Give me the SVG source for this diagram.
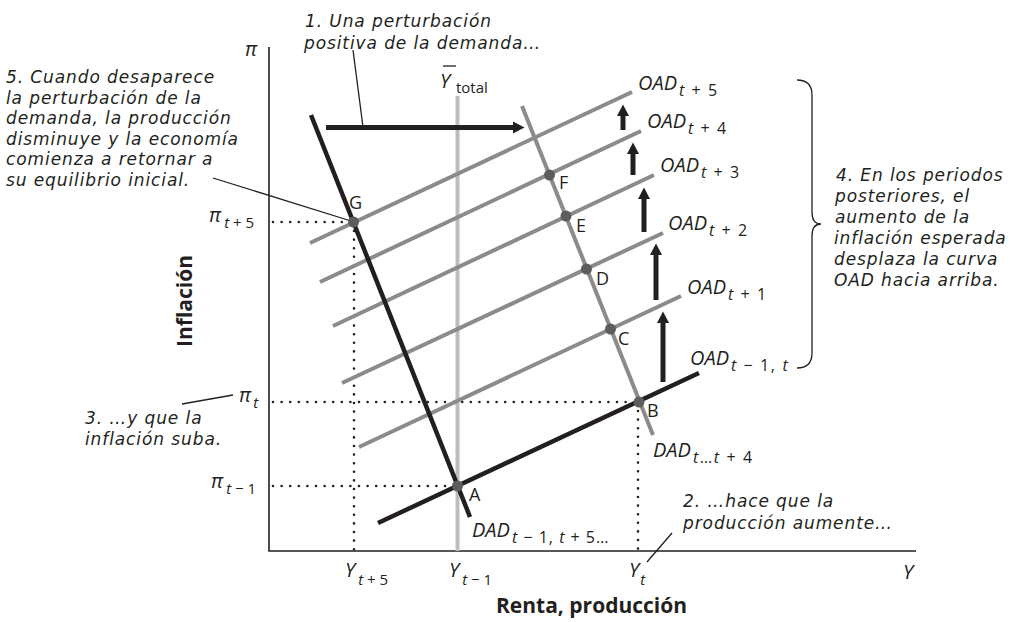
<svg xmlns="http://www.w3.org/2000/svg" width="1010" height="622" viewBox="0 0 1010 622">
<defs>
<style>
text { font-family: "Open Sans", "Liberation Sans", sans-serif; fill: #231f20; }
.ann { font-family: "DejaVu Sans", "Open Sans", sans-serif; font-style: italic; font-size: 17px; letter-spacing: 0.9px; }
.m { font-style: italic; font-size: 20px; }
.s { font-size: 15px; }
.os { font-size: 16px; letter-spacing: 1.6px; }
.u { font-style: normal; }
.pt { font-size: 18px; }
.b { font-weight: bold; font-size: 21px; }
.axis { stroke: #231f20; stroke-width: 1.6; fill: none; }
.blk { stroke: #231f20; stroke-width: 4.5; fill: none; }
.gry { stroke: #8b8b8c; stroke-width: 4; fill: none; }
.ybar { stroke: #bdbdc0; stroke-width: 4; fill: none; }
.dot { stroke: #231f20; stroke-width: 2.6; stroke-linecap: round; stroke-dasharray: 0 8.6; fill: none; }
.lead { stroke: #231f20; stroke-width: 1.3; fill: none; }
.arr { stroke: #231f20; stroke-width: 5; fill: none; marker-end: url(#ah); }
.pnt { fill: #5d5d5e; }
</style>
<marker id="ah" markerUnits="userSpaceOnUse" markerWidth="14" markerHeight="14" viewBox="0 -7 12 14" refX="0" refY="0" orient="auto">
<path d="M0,-6 L11.5,0 L0,6 Z" fill="#231f20"/>
</marker>
</defs>

<g id="axes">
<path class="axis" d="M269,47 V551 H916"/>
<text class="m" x="245" y="56">π</text>
<text class="m" x="903" y="579">Y</text>
<text class="b" x="496" y="613">Renta, producción</text>
<text class="b" transform="translate(192,301) rotate(-90)" text-anchor="middle">Inflación</text>
</g>

<g id="guides">
<path class="dot" d="M273,222 H350"/>
<path class="dot" d="M354,231 V551"/>
<path class="dot" d="M273,402 H634"/>
<path class="dot" d="M638,411 V551"/>
<path class="dot" d="M273,486 H452"/>
</g>

<g id="ybar-total">
<path class="ybar" d="M457.5,96 V551"/>
<text class="m" x="440" y="88">Y</text>
<path d="M443,66 H456" stroke="#231f20" stroke-width="1.3"/>
<text class="s" x="456" y="93">total</text>
</g>

<g id="curves">
<path id="oad-t5" class="gry" d="M310,243 L632,92"/>
<path id="oad-t4" class="gry" d="M320,282 L641,131"/>
<path id="oad-t3" class="gry" d="M333,326 L654,175"/>
<path id="oad-t2" class="gry" d="M342,383 L663,233"/>
<path id="oad-t1" class="gry" d="M359,447 L681,296"/>
<path id="dad-t" class="gry" d="M522,106 L653,435"/>
<path id="oad-t0" class="blk" d="M378,523 L699,373"/>
<path id="dad-t0" class="blk" d="M311,115 L470,517"/>
</g>

<g id="connectors">
<path class="arr" d="M326,127.5 H513"/>
<path class="arr" d="M663,382 V323"/>
<path class="arr" d="M656,300 V255"/>
<path class="arr" d="M644,232 V199"/>
<path class="arr" d="M633,175 V154"/>
<path class="arr" d="M623,130 V116"/>
<path class="lead" d="M353,50 L363,127"/>
<path class="lead" d="M213,178 L351,221"/>
<path class="lead" d="M182,404 L233,395"/>
<path class="lead" d="M672,533 L647,562"/>
<path class="lead" d="M797,80 Q812,80 812,95 V212 Q812,224 821,224 Q812,224 812,236 V353 Q812,368 797,368"/>
</g>

<g id="point-A"><circle class="pnt" cx="457.5" cy="486" r="5.5"/><text class="pt" x="469" y="501">A</text></g>
<g id="point-B"><circle class="pnt" cx="639" cy="402" r="5.5"/><text class="pt" x="647" y="417">B</text></g>
<g id="point-C"><circle class="pnt" cx="610.5" cy="329" r="5.5"/><text class="pt" x="618" y="345">C</text></g>
<g id="point-D"><circle class="pnt" cx="586.5" cy="269" r="5.5"/><text class="pt" x="596" y="285">D</text></g>
<g id="point-E"><circle class="pnt" cx="566" cy="216" r="5.5"/><text class="pt" x="576" y="232">E</text></g>
<g id="point-F"><circle class="pnt" cx="549.5" cy="175" r="5.5"/><text class="pt" x="559" y="189">F</text></g>
<g id="point-G"><circle class="pnt" cx="353.5" cy="222" r="5.5"/><text class="pt" x="349" y="209">G</text></g>

<g id="curve-labels">
<text class="m" x="638" y="90">OAD<tspan class="os" dx="2" dy="6">t<tspan class="u"> + 5</tspan></tspan></text>
<text class="m" x="647" y="128">OAD<tspan class="os" dx="2" dy="6">t<tspan class="u"> + 4</tspan></tspan></text>
<text class="m" x="660" y="172">OAD<tspan class="os" dx="2" dy="6">t<tspan class="u"> + 3</tspan></tspan></text>
<text class="m" x="668" y="230">OAD<tspan class="os" dx="2" dy="6">t<tspan class="u"> + 2</tspan></tspan></text>
<text class="m" x="687" y="294">OAD<tspan class="os" dx="2" dy="6">t<tspan class="u"> + 1</tspan></tspan></text>
<text class="m" x="690" y="365">OAD<tspan class="os" dx="2" dy="6">t<tspan class="u"> − 1, </tspan>t</tspan></text>
<text class="m" x="653" y="457">DAD<tspan class="os" dx="2" dy="6">t<tspan class="u">…</tspan>t<tspan class="u"> + 4</tspan></tspan></text>
<text class="m" x="472" y="537">DAD<tspan class="os" dx="2" dy="6" style="letter-spacing:1px">t<tspan class="u"> − 1, </tspan>t<tspan class="u"> + 5…</tspan></tspan></text>
</g>

<g id="axis-labels">
<text class="m" x="209" y="222">π<tspan class="s" dx="3" dy="6">t<tspan class="u"> + 5</tspan></tspan></text>
<text class="m" x="239" y="402">π<tspan class="s" dx="2" dy="6">t</tspan></text>
<text class="m" x="211" y="488">π<tspan class="s" dx="3" dy="6">t<tspan class="u"> − 1</tspan></tspan></text>
<text class="m" x="345" y="577">Y<tspan class="s" dx="3" dy="8">t<tspan class="u"> + 5</tspan></tspan></text>
<text class="m" x="449" y="577">Y<tspan class="s" dx="3" dy="8">t<tspan class="u"> − 1</tspan></tspan></text>
<text class="m" x="629" y="577">Y<tspan class="s" dx="1" dy="8">t</tspan></text>
</g>

<g id="note-1"><text class="ann" x="305" y="27">1. Una perturbación</text><text class="ann" x="304" y="49">positiva de la demanda…</text></g>
<g id="note-2"><text class="ann" x="683" y="507">2. …hace que la</text><text class="ann" x="683" y="529">producción aumente…</text></g>
<g id="note-3"><text class="ann" x="85" y="424">3. …y que la</text><text class="ann" x="85" y="445">inflación suba.</text></g>
<g id="note-4">
<text class="ann" x="836" y="181">4. En los periodos</text>
<text class="ann" x="835" y="202">posteriores, el</text>
<text class="ann" x="835" y="223">aumento de la</text>
<text class="ann" x="834" y="244">inflación esperada</text>
<text class="ann" x="834" y="265">desplaza la curva</text>
<text class="ann" x="834" y="286">OAD hacia arriba.</text>
</g>
<g id="note-5">
<text class="ann" x="6" y="83">5. Cuando desaparece</text>
<text class="ann" x="6" y="104">la perturbación de la</text>
<text class="ann" x="6" y="124">demanda, la producción</text>
<text class="ann" x="6" y="145">disminuye y la economía</text>
<text class="ann" x="6" y="165">comienza a retornar a</text>
<text class="ann" x="6" y="186">su equilibrio inicial.</text>
</g>
</svg>
